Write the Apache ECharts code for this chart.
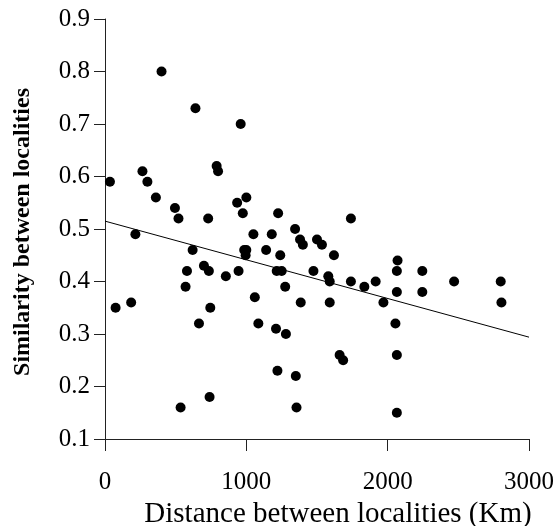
<!DOCTYPE html>
<html>
<head>
<meta charset="utf-8">
<style>
  html, body { margin: 0; padding: 0; background: #fff; }
  #chart { width: 557px; height: 526px; }
</style>
<script src="https://cdn.jsdelivr.net/npm/echarts@6/dist/echarts.min.js"></script>
</head>
<body>
<div id="chart"></div>
<script>
// Pairwise distance between localities (km)
const distanceKm = [
  35, 75, 185, 215, 265, 300, 360, 400, 495, 520,
  535, 570, 580, 620, 640, 665, 700, 730, 735, 740,
  745, 790, 800, 855, 935, 945, 960, 975, 985, 995,
  1000, 1000, 1050, 1060, 1085, 1140, 1180, 1210, 1215, 1220,
  1225, 1240, 1250, 1275, 1280, 1345, 1350, 1355, 1380, 1385,
  1400, 1475, 1500, 1535, 1580, 1590, 1590, 1620, 1660, 1685,
  1740, 1740, 1835, 1915, 1970, 2055, 2065, 2065, 2065, 2065,
  2070, 2245, 2245, 2470, 2800, 2805
];
// Similarity index for each pair
const similarity = [
  0.59, 0.35, 0.36, 0.49, 0.61, 0.59, 0.56, 0.80, 0.54, 0.52,
  0.16, 0.39, 0.42, 0.46, 0.73, 0.32, 0.43, 0.52, 0.42, 0.18,
  0.35, 0.62, 0.61, 0.41, 0.55, 0.42, 0.70, 0.53, 0.46, 0.45,
  0.46, 0.56, 0.49, 0.37, 0.32, 0.46, 0.49, 0.31, 0.42, 0.23,
  0.53, 0.45, 0.42, 0.39, 0.30, 0.50, 0.22, 0.16, 0.48, 0.36,
  0.47, 0.42, 0.48, 0.47, 0.41, 0.40, 0.36, 0.45, 0.26, 0.25,
  0.52, 0.40, 0.39, 0.40, 0.36, 0.32, 0.42, 0.38, 0.26, 0.15,
  0.44, 0.42, 0.38, 0.40, 0.40, 0.36
];
// Fitted regression line end points
const fitX = [0, 3000];
const fitY = [0.515, 0.294];

const xTicks = [0, 1000, 2000, 3000];
const yTicks = [0.1, 0.2, 0.3, 0.4, 0.5, 0.6, 0.7, 0.8, 0.9];

const points = distanceKm.map((d, i) => [d, similarity[i]]);
const fitLine = fitX.map((d, i) => [d, fitY[i]]);

const serif = 'Liberation Serif';
const axisColor = '#222';

const chart = echarts.init(document.getElementById('chart'), null, { renderer: 'canvas' });
chart.setOption({
  animation: false,
  backgroundColor: '#fff',
  textStyle: { fontFamily: serif },
  grid: {
    left: 105, right: 28, top: 19, bottom: 87,
    containLabel: false,
    outerBoundsMode: 'none'
  },
  xAxis: {
    type: 'value',
    min: xTicks[0],
    max: xTicks[xTicks.length - 1],
    interval: xTicks[1] - xTicks[0],
    name: 'Distance between localities (Km)',
    nameLocation: 'middle',
    nameGap: 53,
    nameTextStyle: { fontFamily: serif, fontSize: 29, color: '#000', padding: [0, 0, 0, 42] },
    axisLine: { show: true, lineStyle: { color: axisColor, width: 1 } },
    axisTick: { show: true, length: 12, lineStyle: { color: axisColor, width: 1 } },
    axisLabel: {
      fontFamily: serif, fontSize: 25, color: '#000', margin: 31,
      formatter: v => String(v)
    },
    splitLine: { show: false }
  },
  yAxis: {
    type: 'value',
    min: yTicks[0],
    max: yTicks[yTicks.length - 1],
    interval: 0.1,
    name: 'Similarity between localities',
    nameLocation: 'middle',
    nameGap: 70,
    nameTextStyle: {
      fontFamily: serif, fontSize: 24, fontWeight: 'bold', color: '#000',
      padding: [0, 6, 0, 0]
    },
    axisLine: { show: true, lineStyle: { color: axisColor, width: 1 } },
    axisTick: { show: true, length: 11, lineStyle: { color: axisColor, width: 1 } },
    axisLabel: {
      fontFamily: serif, fontSize: 25, color: '#000', margin: 15,
      formatter: v => v.toFixed(1)
    },
    splitLine: { show: false }
  },
  series: [
    {
      type: 'scatter',
      data: points,
      symbol: 'circle',
      symbolSize: 10,
      itemStyle: { color: '#000', opacity: 1 },
      z: 3
    },
    {
      type: 'line',
      data: fitLine,
      showSymbol: false,
      lineStyle: { color: '#000', width: 1 },
      z: 2
    }
  ]
});
</script>
</body>
</html>
